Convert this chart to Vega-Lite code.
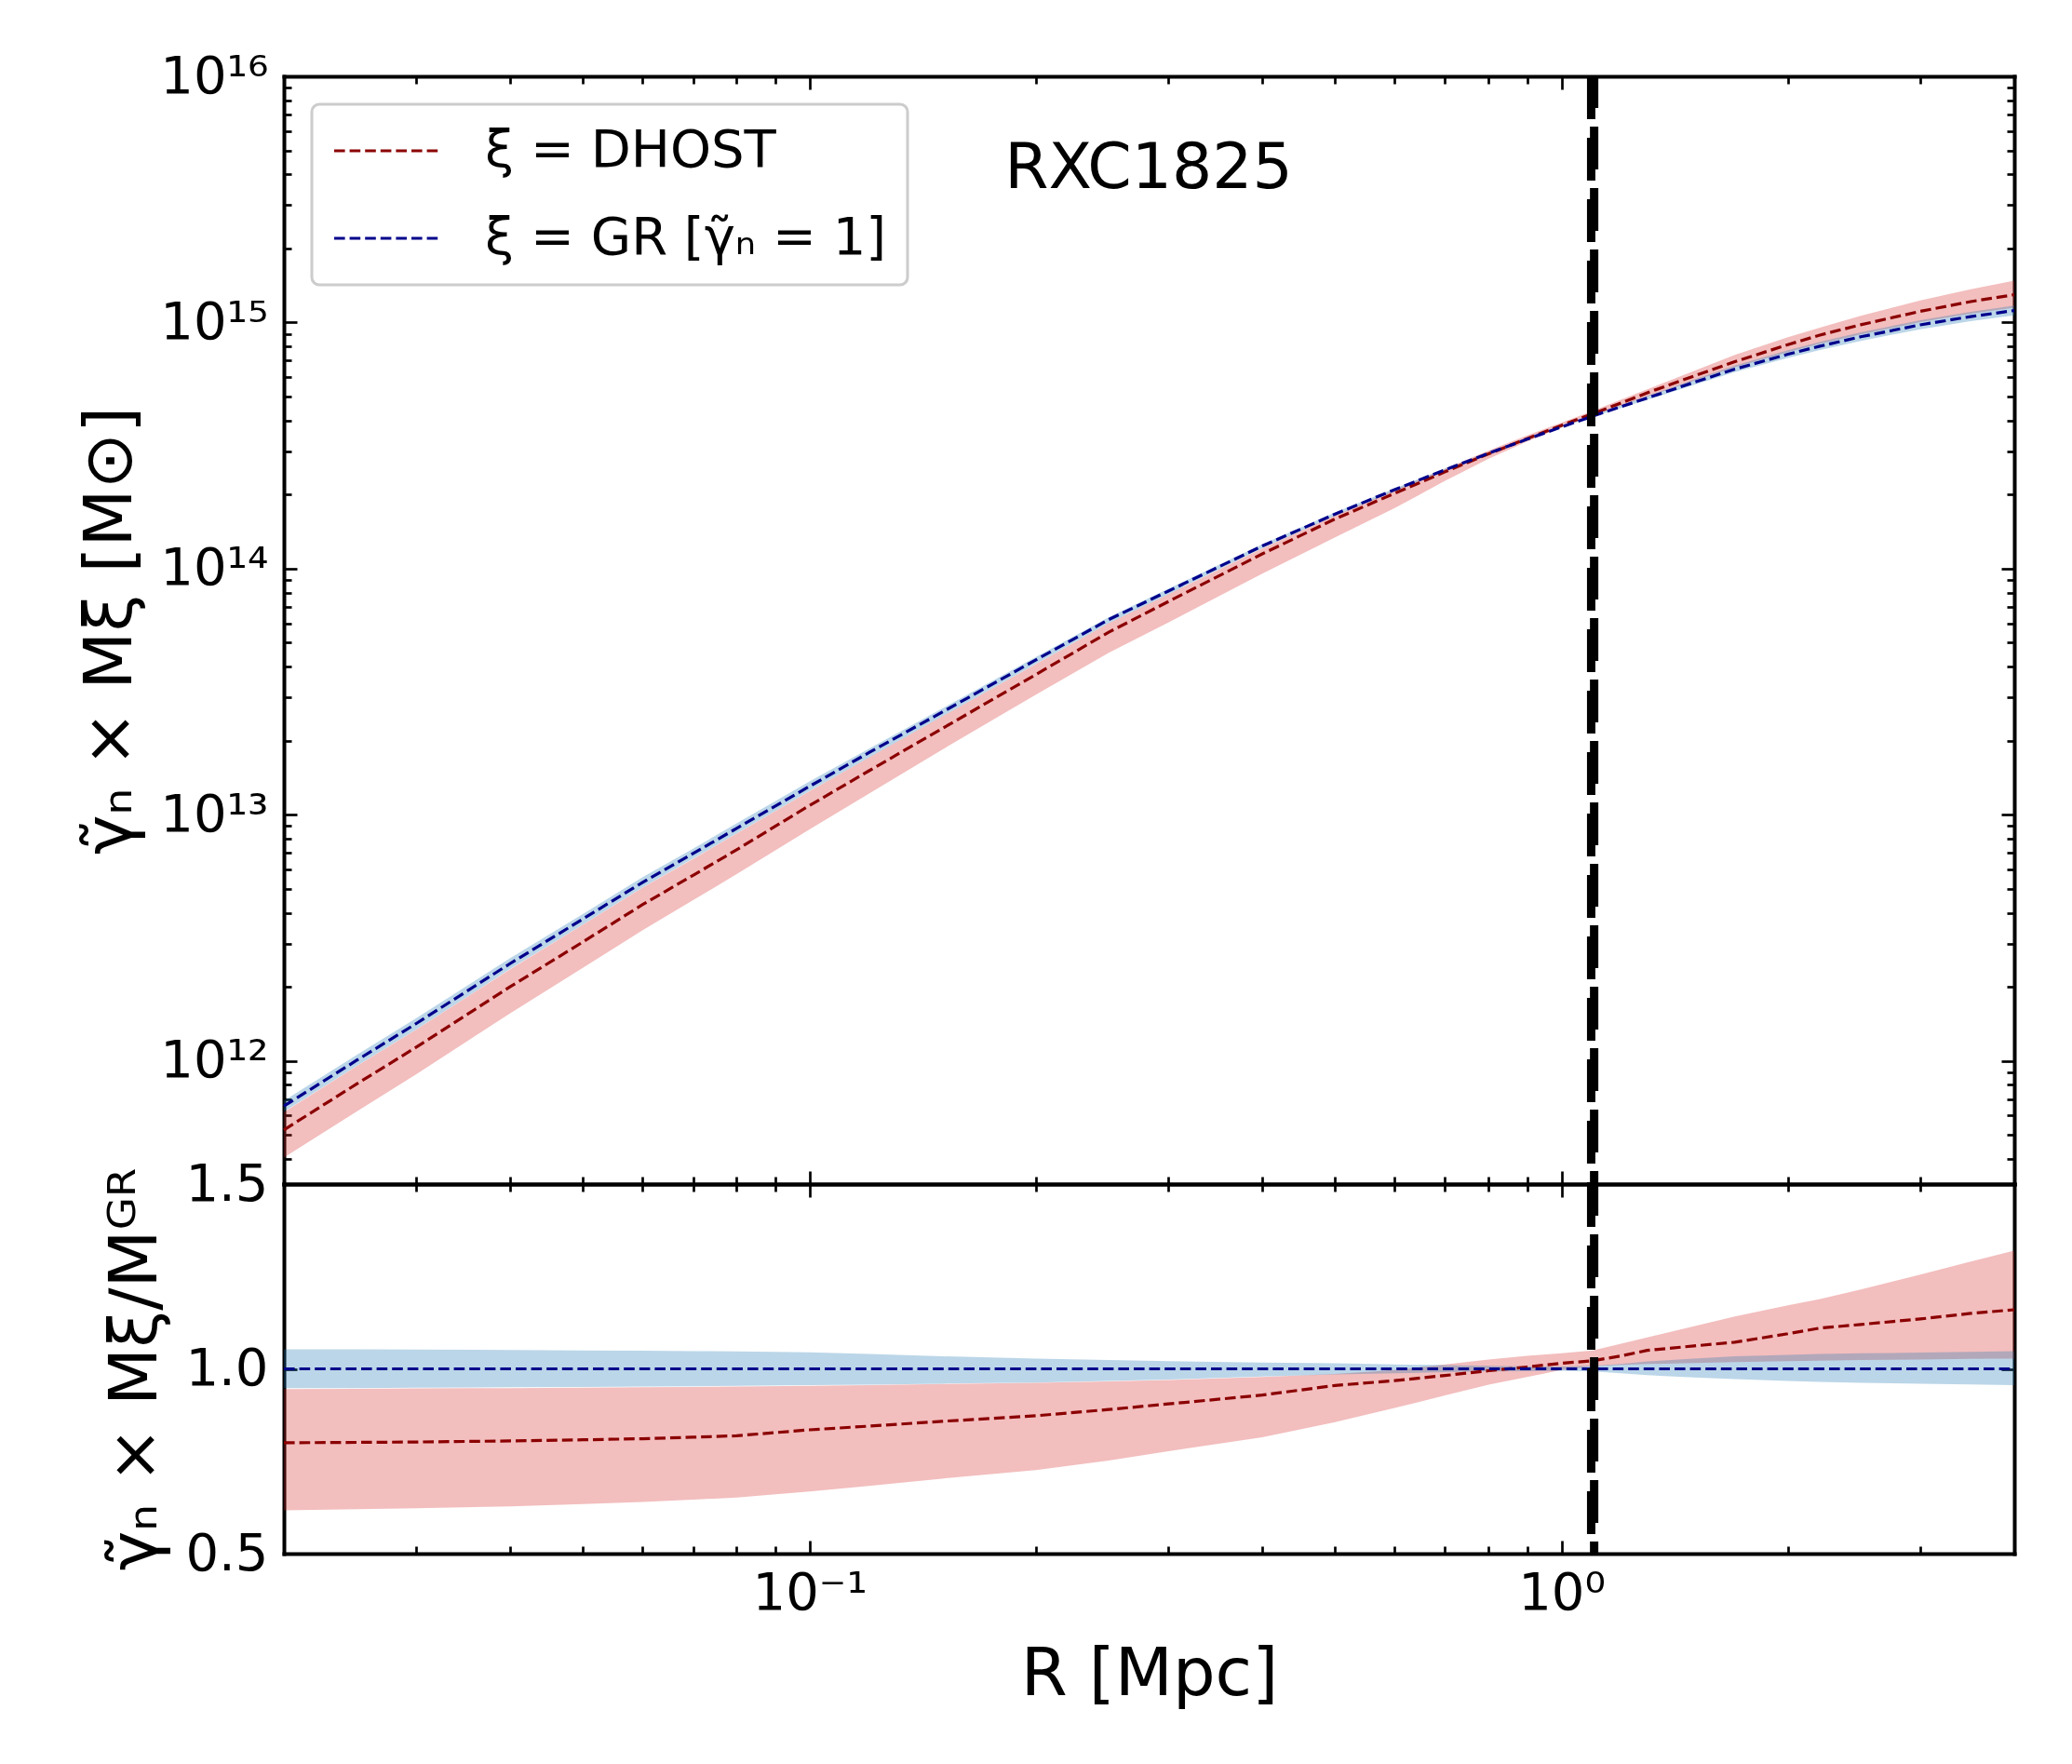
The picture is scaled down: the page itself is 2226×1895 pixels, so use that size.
{
  "$schema": "https://vega.github.io/schema/vega-lite/v6.json",
  "background": "white",
  "padding": {"left": 82, "top": 54, "right": 60, "bottom": 40},
  "bounds": "flush",
  "spacing": 0,
  "resolve": {"scale": {"color": "independent"}},
  "config": {
    "font": "DejaVu Sans",
    "view": {"stroke": null},
    "axis": {
      "grid": false,
      "domain": true,
      "domainColor": "black",
      "domainWidth": 4,
      "domainCap": "square",
      "tickColor": "black",
      "tickWidth": 2.7,
      "labelFont": "DejaVu Sans",
      "labelFontSize": 56,
      "labelColor": "black",
      "labelOverlap": false,
      "labelFlush": false,
      "labelBound": false,
      "titleFont": "DejaVu Sans",
      "titleFontSize": 72,
      "titleFontWeight": "normal",
      "titleColor": "black",
      "zindex": 1
    },
    "legend": {
      "symbolType": "stroke",
      "symbolSize": 13225,
      "symbolStrokeWidth": 3.2,
      "symbolDash": [11.6, 5],
      "clipHeight": 56,
      "rowPadding": 38,
      "padding": 22,
      "labelOffset": 45,
      "labelFont": "DejaVu Sans",
      "labelFontSize": 56,
      "labelColor": "black",
      "labelLimit": 1000,
      "strokeColor": "#cccccc",
      "strokeWidth": 3,
      "cornerRadius": 8,
      "fillColor": "white"
    }
  },
  "datasets": {
    "mass": [
      {"R": 0.02, "gr": 6.56e11, "gr_lo": 6.22e11, "gr_hi": 6.90e11, "dh": 5.25e11, "dh_lo": 4.05e11, "dh_hi": 6.19e11},
      {"R": 0.025, "gr": 1.007e12, "gr_lo": 9.55e11, "gr_hi": 1.059e12, "dh": 8.07e11, "dh_lo": 6.24e11, "dh_hi": 9.53e11},
      {"R": 0.03, "gr": 1.42e12, "gr_lo": 1.346e12, "gr_hi": 1.493e12, "dh": 1.138e12, "dh_lo": 8.84e11, "dh_hi": 1.343e12},
      {"R": 0.04, "gr": 2.49e12, "gr_lo": 2.366e12, "gr_hi": 2.618e12, "dh": 2.004e12, "dh_lo": 1.563e12, "dh_hi": 2.36e12},
      {"R": 0.05, "gr": 3.78e12, "gr_lo": 3.59e12, "gr_hi": 3.96e12, "dh": 3.05e12, "dh_lo": 2.393e12, "dh_hi": 3.58e12},
      {"R": 0.06, "gr": 5.32e12, "gr_lo": 5.07e12, "gr_hi": 5.58e12, "dh": 4.32e12, "dh_lo": 3.40e12, "dh_hi": 5.06e12},
      {"R": 0.07, "gr": 6.97e12, "gr_lo": 6.64e12, "gr_hi": 7.29e12, "dh": 5.68e12, "dh_lo": 4.50e12, "dh_hi": 6.62e12},
      {"R": 0.08, "gr": 8.81e12, "gr_lo": 8.40e12, "gr_hi": 9.23e12, "dh": 7.21e12, "dh_lo": 5.74e12, "dh_hi": 8.39e12},
      {"R": 0.1, "gr": 1.306e13, "gr_lo": 1.249e13, "gr_hi": 1.365e13, "dh": 1.091e13, "dh_lo": 8.73e12, "dh_hi": 1.246e13},
      {"R": 0.12, "gr": 1.79e13, "gr_lo": 1.710e13, "gr_hi": 1.858e13, "dh": 1.510e13, "dh_lo": 1.219e13, "dh_hi": 1.708e13},
      {"R": 0.15, "gr": 2.61e13, "gr_lo": 2.506e13, "gr_hi": 2.70e13, "dh": 2.239e13, "dh_lo": 1.837e13, "dh_hi": 2.506e13},
      {"R": 0.2, "gr": 4.26e13, "gr_lo": 4.10e13, "gr_hi": 4.375e13, "dh": 3.715e13, "dh_lo": 3.08e13, "dh_hi": 4.09e13},
      {"R": 0.25, "gr": 6.21e13, "gr_lo": 6.00e13, "gr_hi": 6.35e13, "dh": 5.52e13, "dh_lo": 4.55e13, "dh_hi": 6.00e13},
      {"R": 0.3, "gr": 8.11e13, "gr_lo": 7.87e13, "gr_hi": 8.28e13, "dh": 7.35e13, "dh_lo": 6.04e13, "dh_hi": 7.87e13},
      {"R": 0.4, "gr": 1.236e14, "gr_lo": 1.211e14, "gr_hi": 1.256e14, "dh": 1.148e14, "dh_lo": 9.55e13, "dh_hi": 1.208e14},
      {"R": 0.5, "gr": 1.667e14, "gr_lo": 1.642e14, "gr_hi": 1.692e14, "dh": 1.592e14, "dh_lo": 1.340e14, "dh_hi": 1.644e14},
      {"R": 0.6, "gr": 2.094e14, "gr_lo": 2.069e14, "gr_hi": 2.119e14, "dh": 2.023e14, "dh_lo": 1.762e14, "dh_hi": 2.088e14},
      {"R": 0.7, "gr": 2.521e14, "gr_lo": 2.498e14, "gr_hi": 2.546e14, "dh": 2.475e14, "dh_lo": 2.273e14, "dh_hi": 2.550e14},
      {"R": 0.8, "gr": 2.942e14, "gr_lo": 2.921e14, "gr_hi": 2.966e14, "dh": 2.929e14, "dh_lo": 2.797e14, "dh_hi": 3.017e14},
      {"R": 0.9, "gr": 3.356e14, "gr_lo": 3.336e14, "gr_hi": 3.380e14, "dh": 3.372e14, "dh_lo": 3.287e14, "dh_hi": 3.474e14},
      {"R": 1.0, "gr": 3.764e14, "gr_lo": 3.745e14, "gr_hi": 3.786e14, "dh": 3.821e14, "dh_lo": 3.747e14, "dh_hi": 3.924e14},
      {"R": 1.1, "gr": 4.163e14, "gr_lo": 4.133e14, "gr_hi": 4.197e14, "dh": 4.255e14, "dh_lo": 4.182e14, "dh_hi": 4.369e14},
      {"R": 1.2, "gr": 4.551e14, "gr_lo": 4.498e14, "gr_hi": 4.611e14, "dh": 4.712e14, "dh_lo": 4.594e14, "dh_hi": 4.866e14},
      {"R": 1.3, "gr": 4.933e14, "gr_lo": 4.850e14, "gr_hi": 5.032e14, "dh": 5.178e14, "dh_lo": 5.002e14, "dh_hi": 5.347e14},
      {"R": 1.5, "gr": 5.709e14, "gr_lo": 5.578e14, "gr_hi": 5.869e14, "dh": 6.061e14, "dh_lo": 5.801e14, "dh_hi": 6.360e14},
      {"R": 1.7, "gr": 6.465e14, "gr_lo": 6.284e14, "gr_hi": 6.683e14, "dh": 6.928e14, "dh_lo": 6.585e14, "dh_hi": 7.388e14},
      {"R": 2.0, "gr": 7.430e14, "gr_lo": 7.184e14, "gr_hi": 7.713e14, "dh": 8.128e14, "dh_lo": 7.586e14, "dh_hi": 8.710e14},
      {"R": 2.2, "gr": 7.998e14, "gr_lo": 7.718e14, "gr_hi": 8.318e14, "dh": 8.872e14, "dh_lo": 8.176e14, "dh_hi": 9.506e14},
      {"R": 2.5, "gr": 8.750e14, "gr_lo": 8.420e14, "gr_hi": 9.120e14, "dh": 9.795e14, "dh_lo": 8.954e14, "dh_hi": 1.064e15},
      {"R": 3.0, "gr": 9.784e14, "gr_lo": 9.393e14, "gr_hi": 1.0214e15, "dh": 1.110e15, "dh_lo": 1.0035e15, "dh_hi": 1.229e15},
      {"R": 3.5, "gr": 1.057e15, "gr_lo": 1.0125e15, "gr_hi": 1.105e15, "dh": 1.216e15, "dh_lo": 1.085e15, "dh_hi": 1.365e15},
      {"R": 4.0, "gr": 1.1183e15, "gr_lo": 1.0693e15, "gr_hi": 1.172e15, "dh": 1.297e15, "dh_lo": 1.150e15, "dh_hi": 1.478e15}
    ],
    "ratio": [
      {"R": 0.02, "gr": 1, "gr_lo": 0.948, "gr_hi": 1.053, "dh": 0.800, "dh_lo": 0.617, "dh_hi": 0.945},
      {"R": 0.025, "gr": 1, "gr_lo": 0.948, "gr_hi": 1.053, "dh": 0.801, "dh_lo": 0.620, "dh_hi": 0.946},
      {"R": 0.03, "gr": 1, "gr_lo": 0.949, "gr_hi": 1.052, "dh": 0.802, "dh_lo": 0.623, "dh_hi": 0.947},
      {"R": 0.04, "gr": 1, "gr_lo": 0.950, "gr_hi": 1.051, "dh": 0.805, "dh_lo": 0.628, "dh_hi": 0.948},
      {"R": 0.05, "gr": 1, "gr_lo": 0.951, "gr_hi": 1.050, "dh": 0.808, "dh_lo": 0.634, "dh_hi": 0.949},
      {"R": 0.06, "gr": 1, "gr_lo": 0.952, "gr_hi": 1.049, "dh": 0.811, "dh_lo": 0.640, "dh_hi": 0.950},
      {"R": 0.07, "gr": 1, "gr_lo": 0.953, "gr_hi": 1.048, "dh": 0.815, "dh_lo": 0.646, "dh_hi": 0.951},
      {"R": 0.08, "gr": 1, "gr_lo": 0.954, "gr_hi": 1.047, "dh": 0.819, "dh_lo": 0.652, "dh_hi": 0.952},
      {"R": 0.1, "gr": 1, "gr_lo": 0.956, "gr_hi": 1.045, "dh": 0.835, "dh_lo": 0.668, "dh_hi": 0.954},
      {"R": 0.12, "gr": 1, "gr_lo": 0.957, "gr_hi": 1.040, "dh": 0.845, "dh_lo": 0.683, "dh_hi": 0.956},
      {"R": 0.15, "gr": 1, "gr_lo": 0.960, "gr_hi": 1.034, "dh": 0.858, "dh_lo": 0.703, "dh_hi": 0.959},
      {"R": 0.2, "gr": 1, "gr_lo": 0.963, "gr_hi": 1.028, "dh": 0.873, "dh_lo": 0.726, "dh_hi": 0.962},
      {"R": 0.25, "gr": 1, "gr_lo": 0.967, "gr_hi": 1.024, "dh": 0.890, "dh_lo": 0.752, "dh_hi": 0.966},
      {"R": 0.3, "gr": 1, "gr_lo": 0.971, "gr_hi": 1.021, "dh": 0.905, "dh_lo": 0.777, "dh_hi": 0.970},
      {"R": 0.4, "gr": 1, "gr_lo": 0.979, "gr_hi": 1.017, "dh": 0.929, "dh_lo": 0.815, "dh_hi": 0.978},
      {"R": 0.5, "gr": 1, "gr_lo": 0.985, "gr_hi": 1.015, "dh": 0.955, "dh_lo": 0.856, "dh_hi": 0.986},
      {"R": 0.6, "gr": 1, "gr_lo": 0.988, "gr_hi": 1.012, "dh": 0.968, "dh_lo": 0.894, "dh_hi": 0.997},
      {"R": 0.7, "gr": 1, "gr_lo": 0.991, "gr_hi": 1.010, "dh": 0.982, "dh_lo": 0.928, "dh_hi": 1.012},
      {"R": 0.8, "gr": 1, "gr_lo": 0.993, "gr_hi": 1.008, "dh": 0.995, "dh_lo": 0.957, "dh_hi": 1.025},
      {"R": 0.9, "gr": 1, "gr_lo": 0.994, "gr_hi": 1.007, "dh": 1.005, "dh_lo": 0.978, "dh_hi": 1.035},
      {"R": 1.0, "gr": 1, "gr_lo": 0.995, "gr_hi": 1.006, "dh": 1.015, "dh_lo": 0.997, "dh_hi": 1.042},
      {"R": 1.1, "gr": 1, "gr_lo": 0.993, "gr_hi": 1.008, "dh": 1.022, "dh_lo": 1.007, "dh_hi": 1.050},
      {"R": 1.2, "gr": 1, "gr_lo": 0.988, "gr_hi": 1.013, "dh": 1.035, "dh_lo": 1.011, "dh_hi": 1.068},
      {"R": 1.3, "gr": 1, "gr_lo": 0.983, "gr_hi": 1.020, "dh": 1.050, "dh_lo": 1.013, "dh_hi": 1.085},
      {"R": 1.5, "gr": 1, "gr_lo": 0.977, "gr_hi": 1.028, "dh": 1.062, "dh_lo": 1.016, "dh_hi": 1.115},
      {"R": 1.7, "gr": 1, "gr_lo": 0.972, "gr_hi": 1.034, "dh": 1.072, "dh_lo": 1.018, "dh_hi": 1.142},
      {"R": 2.0, "gr": 1, "gr_lo": 0.967, "gr_hi": 1.038, "dh": 1.095, "dh_lo": 1.021, "dh_hi": 1.172},
      {"R": 2.2, "gr": 1, "gr_lo": 0.965, "gr_hi": 1.040, "dh": 1.110, "dh_lo": 1.022, "dh_hi": 1.188},
      {"R": 2.5, "gr": 1, "gr_lo": 0.962, "gr_hi": 1.042, "dh": 1.120, "dh_lo": 1.024, "dh_hi": 1.215},
      {"R": 3.0, "gr": 1, "gr_lo": 0.960, "gr_hi": 1.044, "dh": 1.135, "dh_lo": 1.025, "dh_hi": 1.255},
      {"R": 3.5, "gr": 1, "gr_lo": 0.958, "gr_hi": 1.046, "dh": 1.150, "dh_lo": 1.027, "dh_hi": 1.290},
      {"R": 4.0, "gr": 1, "gr_lo": 0.956, "gr_hi": 1.048, "dh": 1.160, "dh_lo": 1.028, "dh_hi": 1.320}
    ],
    "r200": [
      {"model": "GR", "R": 1.095},
      {"model": "DHOST", "R": 1.105}
    ],
    "label": [
      {"R": 0.2825, "M": 3.52e15, "text": "RXC1825"}
    ]
  },
  "vconcat": [
    {
      "width": 1859,
      "height": 1190,
      "resolve": {"axis": {"x": "independent", "y": "independent"}},
      "layer": [
        {
          "data": {"name": "mass"},
          "mark": {"type": "area", "color": "#d62728", "opacity": 0.3},
          "encoding": {
            "x": {"field": "R", "type": "quantitative", "scale": {"type": "log", "domain": [0.02, 4], "nice": false},
              "axis": {"orient": "bottom", "values": [0.02,0.03,0.04,0.05,0.06,0.07,0.08,0.09,0.1,0.2,0.3,0.4,0.5,0.6,0.7,0.8,0.9,1,2,3,4], "labels": false, "title": null,
                "tickSize": {"condition": {"test": "datum.value == 0.1 || datum.value == 1", "value": -14}, "value": -8}}},
            "y": {"field": "dh_lo", "type": "quantitative", "scale": {"type": "log", "domain": [316227766017, 1e16], "nice": false},
              "axis": {"orient": "left", "values": [4e11,5e11,6e11,7e11,8e11,9e11,1e12,2e12,3e12,4e12,5e12,6e12,7e12,8e12,9e12,1e13,2e13,3e13,4e13,5e13,6e13,7e13,8e13,9e13,1e14,2e14,3e14,4e14,5e14,6e14,7e14,8e14,9e14,1e15,2e15,3e15,4e15,5e15,6e15,7e15,8e15,9e15,1e16],
                "labelExpr": "datum.value == 1e12 ? '10¹²' : datum.value == 1e13 ? '10¹³' : datum.value == 1e14 ? '10¹⁴' : datum.value == 1e15 ? '10¹⁵' : datum.value == 1e16 ? '10¹⁶' : ''",
                "labelPadding": 31,
                "tickSize": {"condition": {"test": "datum.value == 1e12 || datum.value == 1e13 || datum.value == 1e14 || datum.value == 1e15 || datum.value == 1e16", "value": -14}, "value": -8},
                "title": "γ̃ₙ × Mξ [M⊙]", "titlePadding": 16}},
            "y2": {"field": "dh_hi"}
          }
        },
        {
          "data": {"name": "mass"},
          "mark": {"type": "area", "color": "#1f77b4", "opacity": 0.3},
          "encoding": {
            "x": {"field": "R", "type": "quantitative", "scale": {"type": "log", "domain": [0.02, 4], "nice": false},
              "axis": {"orient": "top", "values": [0.02,0.03,0.04,0.05,0.06,0.07,0.08,0.09,0.1,0.2,0.3,0.4,0.5,0.6,0.7,0.8,0.9,1,2,3,4], "labels": false, "title": null,
                "tickSize": {"condition": {"test": "datum.value == 0.1 || datum.value == 1", "value": -14}, "value": -8}}},
            "y": {"field": "gr_lo", "type": "quantitative", "scale": {"type": "log", "domain": [316227766017, 1e16], "nice": false},
              "axis": {"orient": "right", "values": [4e11,5e11,6e11,7e11,8e11,9e11,1e12,2e12,3e12,4e12,5e12,6e12,7e12,8e12,9e12,1e13,2e13,3e13,4e13,5e13,6e13,7e13,8e13,9e13,1e14,2e14,3e14,4e14,5e14,6e14,7e14,8e14,9e14,1e15,2e15,3e15,4e15,5e15,6e15,7e15,8e15,9e15,1e16],
                "labels": false, "title": null,
                "tickSize": {"condition": {"test": "datum.value == 1e12 || datum.value == 1e13 || datum.value == 1e14 || datum.value == 1e15 || datum.value == 1e16", "value": -14}, "value": -8}}},
            "y2": {"field": "gr_hi"}
          }
        },
        {
          "data": {"name": "mass"},
          "mark": {"type": "line", "strokeWidth": 3.2, "strokeDash": [11.6, 5]},
          "encoding": {
            "x": {"field": "R", "type": "quantitative", "scale": {"type": "log", "domain": [0.02, 4], "nice": false}, "axis": null},
            "y": {"field": "dh", "type": "quantitative", "scale": {"type": "log", "domain": [316227766017, 1e16], "nice": false}, "axis": null},
            "color": {"datum": "ξ = DHOST", "scale": {"domain": ["ξ = DHOST", "ξ = GR [γ̃ₙ = 1]"], "range": ["#8b0000", "#00008b"]},
              "legend": {"orient": "top-left", "offset": 30, "title": null}}
          }
        },
        {
          "data": {"name": "mass"},
          "mark": {"type": "line", "strokeWidth": 3.2, "strokeDash": [11.6, 5]},
          "encoding": {
            "x": {"field": "R", "type": "quantitative", "scale": {"type": "log", "domain": [0.02, 4], "nice": false}, "axis": null},
            "y": {"field": "gr", "type": "quantitative", "scale": {"type": "log", "domain": [316227766017, 1e16], "nice": false}, "axis": null},
            "color": {"datum": "ξ = GR [γ̃ₙ = 1]", "scale": {"domain": ["ξ = DHOST", "ξ = GR [γ̃ₙ = 1]"], "range": ["#8b0000", "#00008b"]},
              "legend": {"orient": "top-left", "offset": 30, "title": null}}
          }
        },
        {
          "data": {"name": "r200"},
          "transform": [{"filter": "datum.model == 'GR'"}],
          "mark": {"type": "rule", "color": "black", "strokeWidth": 9, "strokeDash": [46, 20]},
          "encoding": {
            "x": {"field": "R", "type": "quantitative", "scale": {"type": "log", "domain": [0.02, 4], "nice": false}, "axis": null}
          }
        },
        {
          "data": {"name": "r200"},
          "transform": [{"filter": "datum.model == 'DHOST'"}],
          "mark": {"type": "rule", "color": "black", "strokeWidth": 9, "strokeDash": [46, 20], "strokeDashOffset": 12},
          "encoding": {
            "x": {"field": "R", "type": "quantitative", "scale": {"type": "log", "domain": [0.02, 4], "nice": false}, "axis": null}
          }
        },
        {
          "data": {"name": "label"},
          "mark": {"type": "text", "font": "DejaVu Sans", "fontSize": 68, "align": "center", "baseline": "alphabetic", "color": "black"},
          "encoding": {
            "x": {"field": "R", "type": "quantitative", "scale": {"type": "log", "domain": [0.02, 4], "nice": false}, "axis": null},
            "y": {"field": "M", "type": "quantitative", "scale": {"type": "log", "domain": [316227766017, 1e16], "nice": false}, "axis": null},
            "text": {"field": "text"}
          }
        }
      ]
    },
    {
      "width": 1859,
      "height": 397,
      "resolve": {"axis": {"x": "independent", "y": "independent"}},
      "layer": [
        {
          "data": {"name": "ratio"},
          "mark": {"type": "area", "color": "#d62728", "opacity": 0.3},
          "encoding": {
            "x": {"field": "R", "type": "quantitative", "scale": {"type": "log", "domain": [0.02, 4], "nice": false},
              "axis": {"orient": "bottom", "values": [0.02,0.03,0.04,0.05,0.06,0.07,0.08,0.09,0.1,0.2,0.3,0.4,0.5,0.6,0.7,0.8,0.9,1,2,3,4],
                "labelExpr": "datum.value == 0.1 ? '10⁻¹' : datum.value == 1 ? '10⁰' : ''",
                "labelPadding": 29,
                "tickSize": {"condition": {"test": "datum.value == 0.1 || datum.value == 1", "value": -14}, "value": -8},
                "title": "R [Mpc]", "titlePadding": 18}},
            "y": {"field": "dh_lo", "type": "quantitative", "scale": {"type": "linear", "domain": [0.5, 1.5], "nice": false, "zero": false},
              "axis": {"orient": "left", "values": [0.5, 1.0, 1.5], "format": ".1f", "labelPadding": 31, "tickSize": -14,
                "title": "γ̃ₙ × Mξ/Mᴳᴿ", "titlePadding": 16}},
            "y2": {"field": "dh_hi"}
          }
        },
        {
          "data": {"name": "ratio"},
          "mark": {"type": "area", "color": "#1f77b4", "opacity": 0.3},
          "encoding": {
            "x": {"field": "R", "type": "quantitative", "scale": {"type": "log", "domain": [0.02, 4], "nice": false},
              "axis": {"orient": "top", "values": [0.02,0.03,0.04,0.05,0.06,0.07,0.08,0.09,0.1,0.2,0.3,0.4,0.5,0.6,0.7,0.8,0.9,1,2,3,4], "labels": false, "title": null,
                "tickSize": {"condition": {"test": "datum.value == 0.1 || datum.value == 1", "value": -14}, "value": -8}}},
            "y": {"field": "gr_lo", "type": "quantitative", "scale": {"type": "linear", "domain": [0.5, 1.5], "nice": false, "zero": false},
              "axis": {"orient": "right", "values": [0.5, 1.0, 1.5], "labels": false, "title": null, "tickSize": -14}},
            "y2": {"field": "gr_hi"}
          }
        },
        {
          "data": {"name": "ratio"},
          "mark": {"type": "line", "color": "#8b0000", "strokeWidth": 3.2, "strokeDash": [11.6, 5]},
          "encoding": {
            "x": {"field": "R", "type": "quantitative", "scale": {"type": "log", "domain": [0.02, 4], "nice": false}, "axis": null},
            "y": {"field": "dh", "type": "quantitative", "scale": {"type": "linear", "domain": [0.5, 1.5], "nice": false, "zero": false}, "axis": null}
          }
        },
        {
          "data": {"name": "ratio"},
          "mark": {"type": "line", "color": "#00008b", "strokeWidth": 3.2, "strokeDash": [11.6, 5]},
          "encoding": {
            "x": {"field": "R", "type": "quantitative", "scale": {"type": "log", "domain": [0.02, 4], "nice": false}, "axis": null},
            "y": {"field": "gr", "type": "quantitative", "scale": {"type": "linear", "domain": [0.5, 1.5], "nice": false, "zero": false}, "axis": null}
          }
        },
        {
          "data": {"name": "r200"},
          "transform": [{"filter": "datum.model == 'GR'"}],
          "mark": {"type": "rule", "color": "black", "strokeWidth": 9, "strokeDash": [46, 20]},
          "encoding": {
            "x": {"field": "R", "type": "quantitative", "scale": {"type": "log", "domain": [0.02, 4], "nice": false}, "axis": null}
          }
        },
        {
          "data": {"name": "r200"},
          "transform": [{"filter": "datum.model == 'DHOST'"}],
          "mark": {"type": "rule", "color": "black", "strokeWidth": 9, "strokeDash": [46, 20], "strokeDashOffset": 12},
          "encoding": {
            "x": {"field": "R", "type": "quantitative", "scale": {"type": "log", "domain": [0.02, 4], "nice": false}, "axis": null}
          }
        }
      ]
    }
  ]
}
